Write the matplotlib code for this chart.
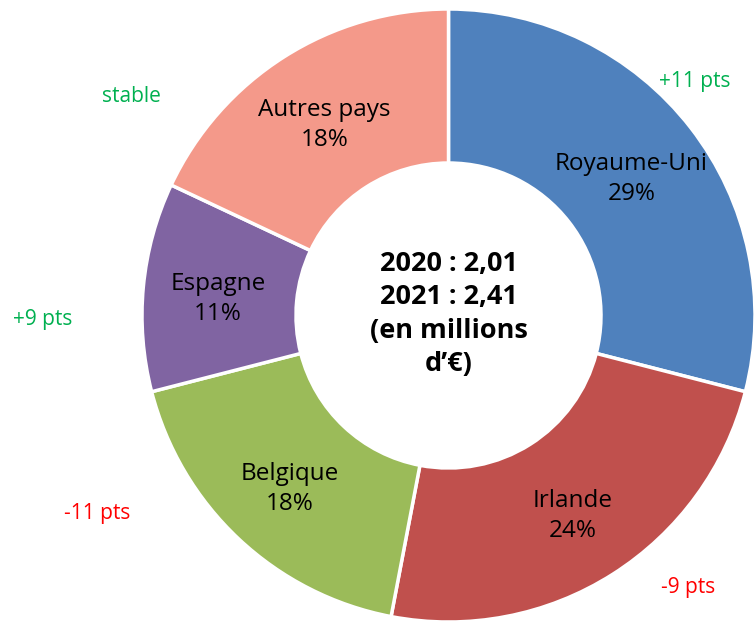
import matplotlib
matplotlib.use('Agg')
import matplotlib.pyplot as plt
import numpy as np

pays = ["Royaume-Uni", "Irlande", "Belgique", "Espagne", "Autres pays"]
parts = [29, 24, 18, 11, 18]
couleurs = ["#4F81BD", "#C0504D", "#9BBB59", "#8064A2", "#F4998A"]
evolutions = ["+11 pts", "-9 pts", "-11 pts", "+9 pts", "stable"]
centre_txt = "2020 : 2,01\n2021 : 2,41\n(en millions\nd\u2019\u20ac)"

W, H = 754, 624
fig = plt.figure(figsize=(W / 100, H / 100), dpi=100)
ax = fig.add_axes([0, 0, 1, 1])

cx, cy, R = 448.5, H - 315.5, 306.5
wedges, _ = ax.pie(parts, colors=couleurs, startangle=90, counterclock=False,
                   center=(cx, cy), radius=R, frame=True,
                   wedgeprops=dict(width=154, edgecolor='white', linewidth=2.5))
ax.set_xlim(0, W)
ax.set_ylim(0, H)
ax.set_aspect('equal')
ax.axis('off')

fnt = 'Open Sans'
for w, nom, p in zip(wedges, pays, parts):
    a = np.deg2rad((w.theta1 + w.theta2) / 2)
    r = 0.755 * R
    ax.text(cx + r * np.cos(a), cy + r * np.sin(a) - 5, "{}\n{}%".format(nom, p),
            ha='center', va='center', fontsize=17.5, family=fnt,
            linespacing=1.33, color='black')

ax.text(cx, cy + 1.5, centre_txt, ha='center', va='center', fontsize=19.5,
        fontweight='bold', family=fnt, linespacing=1.38)

# positions des evolutions (pixels)
pos_evo = [(695, 81), (688, 588), (97, 513), (43, 319), (131, 97)]
for txt, (x, y) in zip(evolutions, pos_evo):
    col = '#FF0000' if txt.startswith('-') else '#00B050'
    ax.text(x, H - y, txt, ha='center', va='center', fontsize=15,
            family=fnt, color=col)

fig.savefig('out.png', dpi=100)
